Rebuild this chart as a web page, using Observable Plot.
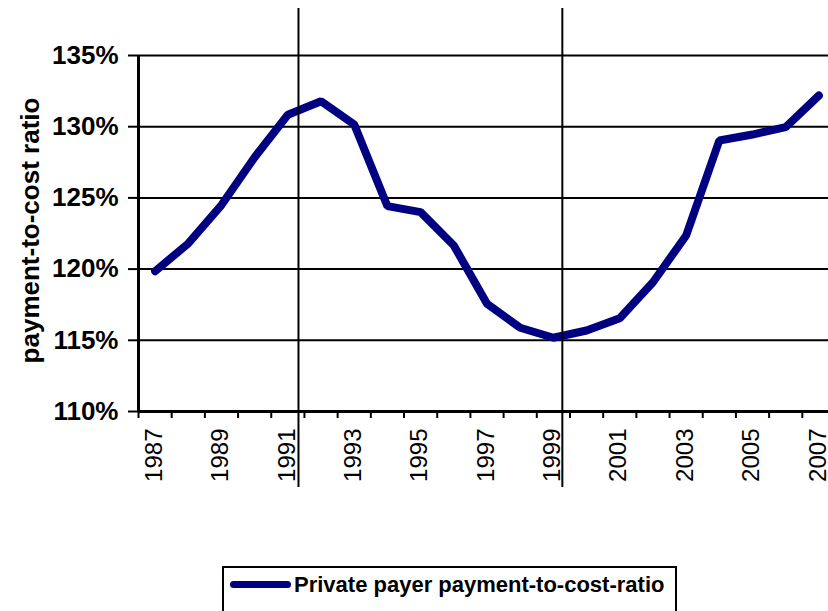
<!DOCTYPE html>
<html>
<head>
<meta charset="utf-8">
<script src="https://cdn.jsdelivr.net/npm/d3@7"></script>
<script src="https://cdn.jsdelivr.net/npm/@observablehq/plot@0.6"></script>
<style>
  html, body { margin: 0; padding: 0; background: #fff; overflow: hidden; }
  body { width: 828px; height: 611px; font-family: "Liberation Sans", Arial, sans-serif; }
  #chart svg { display: block; }
  .legend {
    margin-left: 222px; margin-top: 6px; width: 451px; height: 60px;
    border: 2px solid #000; box-sizing: content-box; position: relative;
  }
  .legend .swatch {
    position: absolute; left: 6px; top: 13px; width: 61px; height: 7px;
    background: #000080; border-radius: 4px;
  }
  .legend .label {
    position: absolute; left: 70px; top: 2px; font-size: 22px; font-weight: bold; color: #000;
    line-height: 30px; white-space: nowrap;
  }
</style>
</head>
<body>
<div id="chart"></div>
<div class="legend"><span class="swatch"></span><span class="label">Private payer payment-to-cost-ratio</span></div>
<script>
const years = [1987, 1988, 1989, 1990, 1991, 1992, 1993, 1994, 1995, 1996, 1997,
               1998, 1999, 2000, 2001, 2002, 2003, 2004, 2005, 2006, 2007];
const ratio = [119.85, 121.8, 124.5, 127.86, 130.84, 131.79, 130.15, 124.42, 124.0, 121.66, 117.56,
               115.88, 115.18, 115.69, 116.55, 119.08, 122.36, 129.03, 129.45, 129.97, 132.19];
const yTicks = [110, 115, 120, 125, 130, 135];
const yearLabels = [1987, 1989, 1991, 1993, 1995, 1997, 1999, 2001, 2003, 2005, 2007];
const markerYears = [1991.32, 1999.27];
const yTitle = "payment-to-cost ratio";

const data = years.map((year, i) => ({year, ratio: ratio[i]}));
const boundaries = [...years.map(y => y - 0.5), years[years.length - 1] + 0.5];

const chart = Plot.plot({
  width: 828,
  height: 560,
  marginTop: 55,
  marginBottom: 149,
  marginLeft: 138,
  marginRight: 0,
  x: {domain: [years[0] - 0.5, years[years.length - 1] + 0.5], range: [138, 835]},
  y: {domain: [yTicks[0], yTicks[yTicks.length - 1]]},
  style: {fontFamily: "'Liberation Sans', Arial, sans-serif", color: "black", background: "white", overflow: "visible"},
  marks: [
    Plot.ruleY(yTicks, {stroke: "black", strokeWidth: 2}),
    Plot.line(data, {x: "year", y: "ratio", stroke: "#000080", strokeWidth: 8, strokeLinecap: "round", strokeLinejoin: "miter"}),
    Plot.ruleX(markerYears, {stroke: "black", strokeWidth: 2, insetTop: -47, insetBottom: -76}),
    Plot.ruleX([years[0] - 0.5], {stroke: "black", strokeWidth: 3}),
    Plot.ruleY([yTicks[0]], {stroke: "black", strokeWidth: 3}),
    Plot.axisY({ticks: yTicks, tickFormat: d => d + "%", tickSize: 10, tickPadding: 10, fontSize: 26, fontWeight: "bold", strokeWidth: 2, label: null}),
    Plot.axisX({ticks: boundaries, tickFormat: () => "", tickSize: 7, strokeWidth: 2, label: null}),
    Plot.axisX({ticks: yearLabels, tickFormat: d => String(d), tickSize: 0, tickPadding: 17, tickRotate: -90, fontSize: 24, dx: -1, label: null}),
    Plot.text([yTitle], {frameAnchor: "left", textAnchor: "middle", lineAnchor: "middle", rotate: -90, dx: -108, dy: -3, fontSize: 26, fontWeight: "bold", fill: "black"})
  ]
});
document.getElementById("chart").appendChild(chart);
</script>
</body>
</html>
